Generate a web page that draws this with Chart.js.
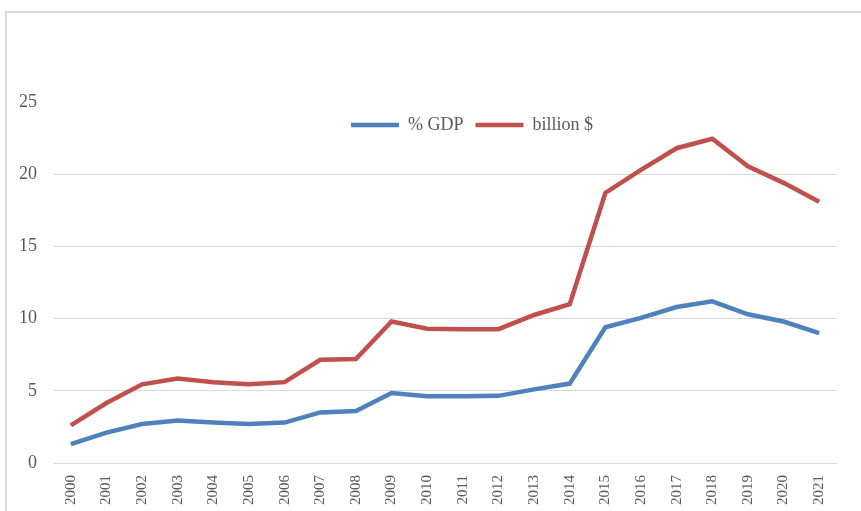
<!DOCTYPE html>
<html>
<head>
<meta charset="utf-8">
<script src="https://cdn.jsdelivr.net/npm/chart.js@4"></script>
<style>
  html, body { margin: 0; padding: 0; background: #fff; }
  #wrap { position: relative; width: 861px; height: 511px; overflow: hidden; }
  #frame { position: absolute; left: 5px; top: 11px; width: 900px; height: 600px;
           border-left: 2px solid #d9d9d9; border-top: 2px solid #d9d9d9; }
  canvas { position: absolute; left: 0; top: 0; }
</style>
</head>
<body>
<div id="wrap">
  <div id="frame"></div>
  <canvas id="chart" width="861" height="511"></canvas>
</div>
<script>
const years = ['2000','2001','2002','2003','2004','2005','2006','2007','2008','2009','2010',
               '2011','2012','2013','2014','2015','2016','2017','2018','2019','2020','2021'];
const pctGdp = [1.3, 2.1, 2.7, 2.95, 2.8, 2.7, 2.8, 3.5, 3.6, 4.85, 4.63,
                4.63, 4.65, 5.1, 5.5, 9.4, 10.05, 10.8, 11.2, 10.3, 9.8, 9.0];
const billionUsd = [2.6, 4.15, 5.45, 5.85, 5.6, 5.45, 5.6, 7.15, 7.2, 9.8, 9.3,
                    9.27, 9.27, 10.25, 11.0, 18.7, 20.3, 21.8, 22.45, 20.55, 19.4, 18.1];
const yTicks = [0, 5, 10, 15, 20, 25];

const textColor = '#595959';
const serif = "'Liberation Serif', 'Times New Roman', serif";

// legend en una fila, dentro del area del grafico y corrido a la derecha
const legendInside = {
  id: 'legendInside',
  beforeLayout(chart) {
    chart.legend.isHorizontal = () => true;
  },
  afterLayout(chart) {
    const lg = chart.legend, a = chart.chartArea;
    lg.left = a.left + 27;
    lg.right = a.right + 27;
    lg.top = a.top + 2;
    lg.bottom = lg.top + lg.height;
  }
};

const ctx = document.getElementById('chart').getContext('2d');
new Chart(ctx, {
  type: 'line',
  data: {
    labels: years,
    datasets: [
      { label: '% GDP', data: pctGdp, borderColor: '#4f81bd', backgroundColor: '#4f81bd',
        borderWidth: 4.5, pointRadius: 0, tension: 0 },
      { label: 'billion $', data: billionUsd, borderColor: '#c0504d', backgroundColor: '#c0504d',
        borderWidth: 4.5, pointRadius: 0, tension: 0 }
    ]
  },
  options: {
    responsive: false,
    animation: false,
    layout: { padding: { left: 0, top: 102, right: 24, bottom: 0 } },
    plugins: {
      legend: {
        position: 'chartArea',
        labels: {
          usePointStyle: true,
          pointStyle: 'line',
          pointStyleWidth: 48,
          padding: 12,
          color: textColor,
          font: { family: serif, size: 18 }
        }
      },
      tooltip: { enabled: false }
    },
    scales: {
      x: {
        offset: true,
        grid: { display: false, drawTicks: false },
        border: { display: false },
        ticks: { color: textColor, font: { family: serif, size: 15 },
                 minRotation: 90, maxRotation: 90, padding: 12, autoSkip: false },
        afterFit: s => { s.height = 48; }
      },
      y: {
        min: 0, max: 25,
        afterBuildTicks: s => { s.ticks = yTicks.map(v => ({ value: v })); },
        grid: { color: c => c.tick && c.tick.value === 25 ? 'rgba(0,0,0,0)' : '#d9d9d9',
                lineWidth: 1, drawTicks: false },
        border: { display: false },
        ticks: { color: textColor, font: { family: serif, size: 18 }, padding: 16 },
        afterFit: s => { s.width = 53; }
      }
    }
  },
  plugins: [legendInside]
});
</script>
</body>
</html>
